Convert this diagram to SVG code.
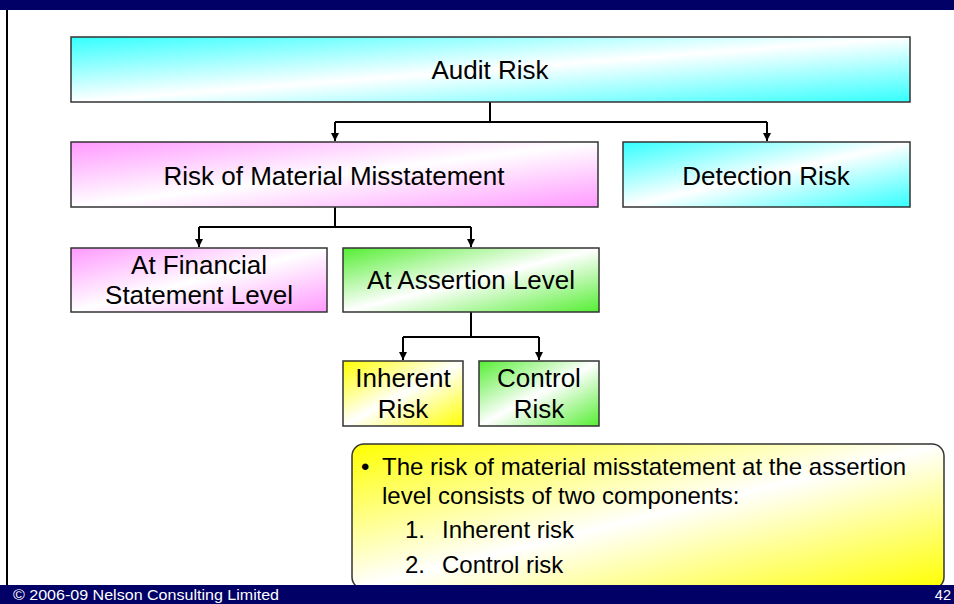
<svg xmlns="http://www.w3.org/2000/svg" width="954" height="604" viewBox="0 0 954 604">
  <defs>
    <style>
      .box { stroke: #333333; stroke-width: 1.5; }
      .lbl { font-family: "Liberation Sans", Arial, sans-serif; font-size: 26px; fill: #000000; text-anchor: middle; }
      .note { font-family: "Liberation Sans", Arial, sans-serif; font-size: 24px; fill: #000000; }
      .foot { font-family: "Liberation Sans", Arial, sans-serif; font-size: 14.5px; fill: #ffffff; }
      .conn { fill: none; stroke: #000000; stroke-width: 2; }
    </style>
    <linearGradient id="gCyan" x1="0" y1="0" x2="1" y2="1">
      <stop offset="0" stop-color="#33ffff"/>
      <stop offset="0.5" stop-color="#ffffff"/>
      <stop offset="1" stop-color="#33ffff"/>
    </linearGradient>
    <linearGradient id="gPink" x1="0" y1="0" x2="1" y2="1">
      <stop offset="0" stop-color="#ff99ff"/>
      <stop offset="0.5" stop-color="#ffffff"/>
      <stop offset="1" stop-color="#ff99ff"/>
    </linearGradient>
    <linearGradient id="gGreen" x1="0" y1="0" x2="1" y2="1">
      <stop offset="0" stop-color="#55ee33"/>
      <stop offset="0.5" stop-color="#ffffff"/>
      <stop offset="1" stop-color="#55ee33"/>
    </linearGradient>
    <linearGradient id="gYellow" x1="0" y1="0" x2="1" y2="1">
      <stop offset="0" stop-color="#ffff00"/>
      <stop offset="0.5" stop-color="#ffffff"/>
      <stop offset="1" stop-color="#ffff00"/>
    </linearGradient>
    <marker id="arr" viewBox="0 0 8 8" refX="8" refY="4" markerWidth="8" markerHeight="8" markerUnits="userSpaceOnUse" orient="auto">
      <path d="M0,0 L8,4 L0,8 Z" fill="#000000"/>
    </marker>
  </defs>

  <!-- page frame -->
  <rect x="0" y="0" width="954" height="10" fill="#000066"/>
  <line x1="7" y1="10" x2="7" y2="585" stroke="#000000" stroke-width="2"/>

  <!-- connectors -->
  <g id="connectors">
    <path class="conn" d="M490,102 V122"/>
    <path class="conn" d="M335,122 H767"/>
    <path class="conn" d="M335,122 V141" marker-end="url(#arr)"/>
    <path class="conn" d="M767,122 V141" marker-end="url(#arr)"/>
    <path class="conn" d="M335,207 V227"/>
    <path class="conn" d="M199,227 H471"/>
    <path class="conn" d="M199,227 V247" marker-end="url(#arr)"/>
    <path class="conn" d="M471,227 V247" marker-end="url(#arr)"/>
    <path class="conn" d="M471,312 V337"/>
    <path class="conn" d="M403,337 H539"/>
    <path class="conn" d="M403,337 V360" marker-end="url(#arr)"/>
    <path class="conn" d="M539,337 V360" marker-end="url(#arr)"/>
  </g>

  <g id="audit-risk">
    <rect class="box" x="71" y="37" width="839" height="65" fill="url(#gCyan)"/>
    <text class="lbl" x="490" y="79">Audit Risk</text>
  </g>

  <g id="rmm">
    <rect class="box" x="71" y="142" width="527" height="65" fill="url(#gPink)"/>
    <text class="lbl" x="334" y="185">Risk of Material Misstatement</text>
  </g>

  <g id="detection-risk">
    <rect class="box" x="623" y="142" width="287" height="65" fill="url(#gCyan)"/>
    <text class="lbl" x="766" y="185">Detection Risk</text>
  </g>

  <g id="fs-level">
    <rect class="box" x="71" y="248" width="256" height="64" fill="url(#gPink)"/>
    <text class="lbl" x="199" y="274">At Financial</text>
    <text class="lbl" x="199" y="304">Statement Level</text>
  </g>

  <g id="assertion-level">
    <rect class="box" x="343" y="248" width="256" height="64" fill="url(#gGreen)"/>
    <text class="lbl" x="471" y="289">At Assertion Level</text>
  </g>

  <g id="inherent-risk">
    <rect class="box" x="343" y="361" width="120" height="65" fill="url(#gYellow)"/>
    <text class="lbl" x="403" y="387">Inherent</text>
    <text class="lbl" x="403" y="418">Risk</text>
  </g>

  <g id="control-risk">
    <rect class="box" x="479" y="361" width="120" height="65" fill="url(#gGreen)"/>
    <text class="lbl" x="539" y="387">Control</text>
    <text class="lbl" x="539" y="418">Risk</text>
  </g>

  <g id="note">
    <rect class="box" x="352" y="444" width="592" height="145" rx="12" ry="12" fill="url(#gYellow)"/>
    <text class="note" x="361" y="475">•</text>
    <text class="note" x="382" y="475">The risk of material misstatement at the assertion</text>
    <text class="note" x="382" y="504">level consists of two components:</text>
    <text class="note" x="405" y="538">1.</text>
    <text class="note" x="442" y="538">Inherent risk</text>
    <text class="note" x="405" y="573">2.</text>
    <text class="note" x="442" y="573">Control risk</text>
  </g>

  <!-- footer -->
  <rect x="0" y="585" width="954" height="19" fill="#000066"/>
  <text class="foot" x="13" y="600" textLength="266" lengthAdjust="spacingAndGlyphs">© 2006-09 Nelson Consulting Limited</text>
  <text class="foot" x="951" y="600" text-anchor="end">42</text>
</svg>
